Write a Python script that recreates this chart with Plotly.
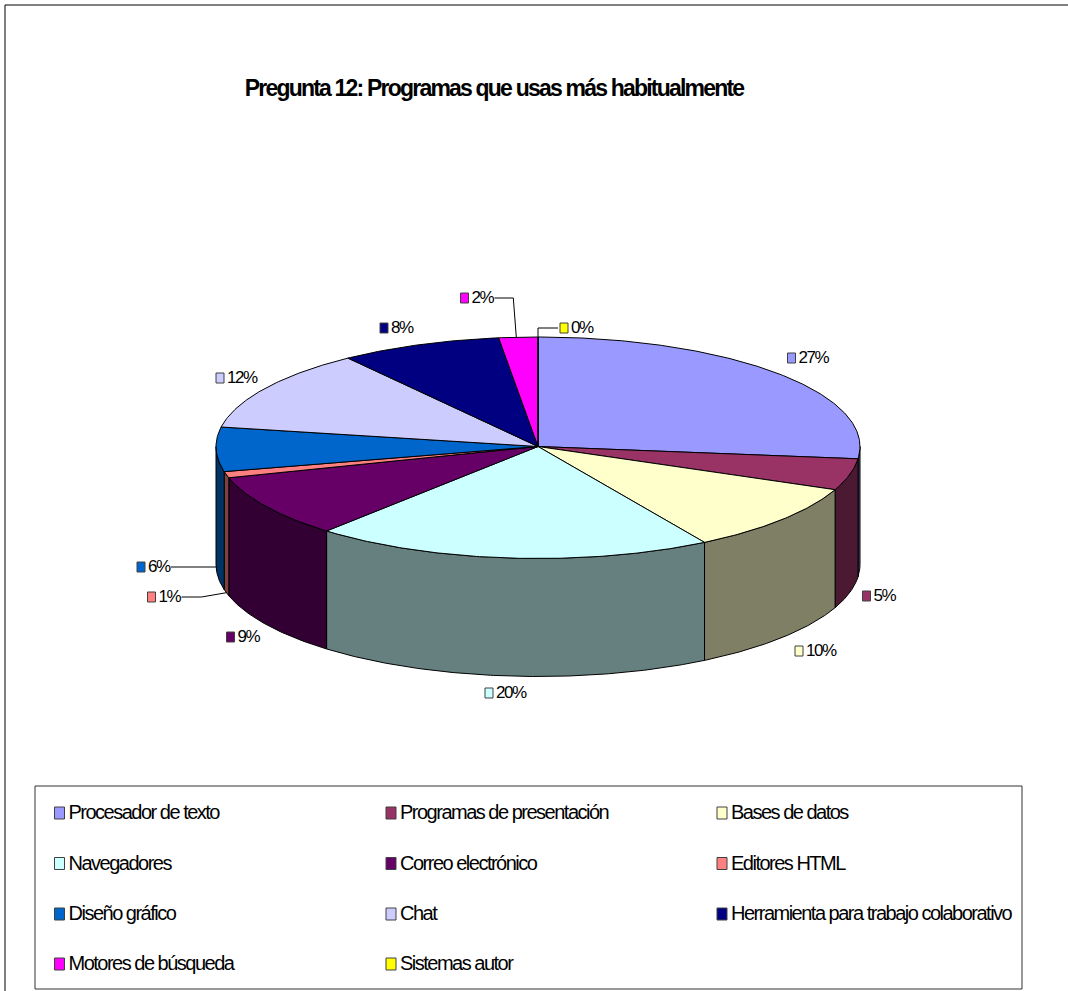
import math
import plotly.graph_objects as go

# ---- data ----
CATEGORIES = ["Procesador de texto", "Programas de presentación", "Bases de datos",
              "Navegadores", "Correo electrónico", "Editores HTML",
              "Diseño gráfico", "Chat", "Herramienta para trabajo colaborativo",
              "Motores de búsqueda", "Sistemas autor"]
VALUES = [26.75, 4.55, 10.05, 20.05, 9.1, 0.9, 6.45, 12.1, 8.1, 1.95, 0.0]
COLORS = ["#9999FF", "#993366", "#FFFFCC", "#CCFFFF", "#660066", "#FF8080",
          "#0066CC", "#CCCCFF", "#000080", "#FF00FF", "#FFFF00"]
TITLE = "Pregunta 12: Programas que usas más habitualmente"

# ---- layout of the page, in page pixels ----
W, H = 1068, 991
CX, CY, RX, RY_BACK, RY_FRONT, DEPTH = 538, 446.5, 322, 109.5, 112, 118
LABEL_KEYS = [(791.5, 358), (866.5, 596), (799, 651), (489, 693), (230.5, 637),
              (151.5, 597), (141, 567), (220, 378), (384, 328), (464.5, 298), (564, 328)]
LEGEND_COLS = [59.5, 391, 722]
LEGEND_ROWS = [813, 863.5, 914, 964]
TEXT = "Liberation Sans"
EDGE = "#000000"


def shade(c):
    r, g, b = int(c[1:3], 16), int(c[3:5], 16), int(c[5:7], 16)
    return "#%02X%02X%02X" % (r // 2, g // 2, b // 2)


def pt(t, dy=0.0):
    a = math.radians(t)
    c = math.cos(a)
    return CX + RX * math.sin(a), CY - (RY_BACK if c > 0 else RY_FRONT) * c + dy


def arc(t0, t1, dy=0.0):
    n = max(2, int(abs(t1 - t0) * 2) + 1)
    return [pt(t0 + (t1 - t0) * i / (n - 1), dy) for i in range(n)]


total = sum(VALUES)
bounds = [0.0]
for v in VALUES:
    bounds.append(bounds[-1] + v / total * 360)

fig = go.Figure()

# side walls (front half only)
for i, c in enumerate(CATEGORIES):
    a, b = max(bounds[i], 90), min(bounds[i + 1], 270)
    if b <= a:
        continue
    poly = arc(a, b) + arc(b, a, DEPTH)
    poly.append(poly[0])
    fig.add_trace(go.Scatter(x=[p[0] for p in poly], y=[p[1] for p in poly], mode="lines",
                             fill="toself", fillcolor=shade(COLORS[i]),
                             line=dict(color=EDGE, width=1), name=c + " (lateral)",
                             hoverinfo="skip", showlegend=False))

# top wedges
for i, c in enumerate(CATEGORIES):
    poly = [(CX, CY)] + arc(bounds[i], bounds[i + 1]) + [(CX, CY)]
    fig.add_trace(go.Scatter(x=[p[0] for p in poly], y=[p[1] for p in poly], mode="lines",
                             fill="toself", fillcolor=COLORS[i],
                             line=dict(color=EDGE, width=1), name=c,
                             text=f"{VALUES[i]}%", hoverinfo="name+text", showlegend=False))

shapes = [
    dict(type="rect", x0=5, y0=5, x1=1100, y1=1010, line=dict(color="#000000", width=1)),
    dict(type="rect", x0=35, y0=786, x1=1022, y1=989, line=dict(color="#333333", width=1)),
]

# data-label keys and percent labels
lx, ly, lt = [], [], []
for i, (x, y) in enumerate(LABEL_KEYS):
    shapes.append(dict(type="rect", x0=x - 4, x1=x + 4, y0=y - 5, y1=y + 5,
                       fillcolor=COLORS[i], line=dict(color="#404040", width=1)))
    lx.append(x + 7)
    ly.append(y + 1)
    lt.append(f"{round(VALUES[i] / total * 100)}%")
fig.add_trace(go.Scatter(x=lx, y=ly, text=lt, mode="text", textposition="middle right",
                         textfont=dict(family=TEXT, size=17, color="#000000"),
                         hoverinfo="skip", showlegend=False, name="Porcentajes"))


# leader lines for the small slices
def mid(i):
    return (bounds[i] + bounds[i + 1]) / 2


def leader(pts):
    shapes.append(dict(type="path", line=dict(color="#000000", width=1),
                       path="M " + " L ".join(f"{x:.1f},{y:.1f}" for x, y in pts)))


i6, i1, i2, i0 = 6, 5, 9, 10
e = pt(mid(i6), DEPTH)
leader([(LABEL_KEYS[i6][0] + 30, LABEL_KEYS[i6][1]), (e[0] + 1, LABEL_KEYS[i6][1])])
e = pt(mid(i1), DEPTH)
leader([(LABEL_KEYS[i1][0] + 30, LABEL_KEYS[i1][1]), (LABEL_KEYS[i1][0] + 50, LABEL_KEYS[i1][1]), e])
e = pt(mid(i2))
leader([(LABEL_KEYS[i2][0] + 30, LABEL_KEYS[i2][1]), (e[0] - 5, LABEL_KEYS[i2][1]), (e[0] - 2, e[1])])
e = pt(mid(i0))
leader([(LABEL_KEYS[i0][0] - 6, LABEL_KEYS[i0][1]), (e[0], LABEL_KEYS[i0][1]), e])

# legend
gx, gy, gt = [], [], []
for i, c in enumerate(CATEGORIES):
    x, y = LEGEND_COLS[i % 3], LEGEND_ROWS[i // 3]
    shapes.append(dict(type="rect", x0=x - 5, x1=x + 5, y0=y - 6, y1=y + 6,
                       fillcolor=COLORS[i], line=dict(color="#404040", width=1)))
    gx.append(x + 9)
    gy.append(y + 1)
    gt.append(c)
fig.add_trace(go.Scatter(x=gx, y=gy, text=gt, mode="text", textposition="middle right",
                         textfont=dict(family=TEXT, size=20, color="#000000"),
                         hoverinfo="skip", showlegend=False, name="Leyenda"))

fig.update_layout(
    width=W, height=H, margin=dict(l=0, r=0, t=0, b=0), autosize=False,
    paper_bgcolor="white", plot_bgcolor="white", showlegend=False,
    title=dict(text=f"<b>{TITLE}</b>", x=494 / W, y=1 - 88 / H, xanchor="center", yanchor="middle",
               font=dict(family=TEXT, size=23, color="#000000")),
    xaxis=dict(range=[0, W], visible=False, fixedrange=True),
    yaxis=dict(range=[H, 0], visible=False, fixedrange=True),
    shapes=shapes,
)

POST = """
document.body.style.margin='0';
document.documentElement.style.overflow='hidden';
var s=document.createElement('style');
s.textContent='.textpoint text{letter-spacing:-1.5px;} .gtitle{letter-spacing:-1.8px;}';
document.head.appendChild(s);
"""
fig.write_html("out.html", post_script=POST, config={"displayModeBar": False})
